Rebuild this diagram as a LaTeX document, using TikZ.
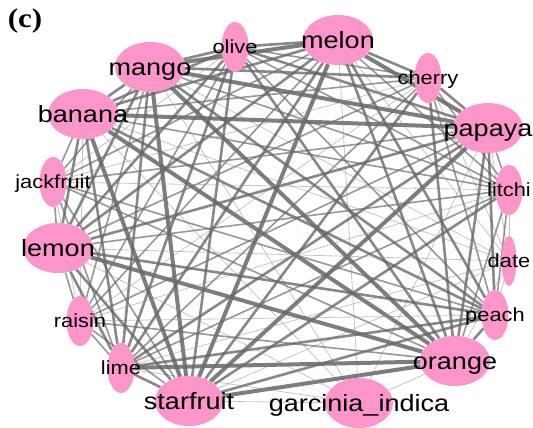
\documentclass[tikz,border=0pt]{standalone}
\usepackage{fontspec}
\usetikzlibrary{shapes.geometric}
\newfontfamily\labfont[FakeStretch=1.15]{Liberation Sans}
\newfontfamily\tagfont[FakeStretch=1.15]{Liberation Serif}
\definecolor{fruitpink}{RGB}{252,150,202}
\pgfdeclarelayer{background}
\pgfsetlayers{background,main}
% label whose height is the cap height, so the ellipse centre sits mid-caps
\newcommand\fruitlbl[1]{\makebox[0pt]{\raisebox{0pt}[0.72em][0pt]{#1}}}

\begin{document}
\begin{tikzpicture}[x=1pt,y=-1pt,
  fruit/.style={ellipse, fill=fruitpink, draw=none, inner sep=0pt},
  big/.style={fruit, minimum width=70pt, minimum height=50pt,
    font=\labfont\fontsize{23.5}{26}\selectfont},
  small/.style={fruit, minimum width=27pt, minimum height=50pt,
    font=\labfont\fontsize{19}{22}\selectfont},
  edgeA/.style={line width=4pt, draw=black!58, draw opacity=.88},
  edgeB/.style={line width=2.6pt, draw=black!60, draw opacity=.78},
  edgeC/.style={line width=1.6pt, draw=black!58, draw opacity=.7},
  edgeD/.style={line width=0.8pt, draw=black!45, draw opacity=.5},
  edgeE/.style={line width=0.5pt, draw=black!35, draw opacity=.5, dotted},
]
\useasboundingbox (0,0) rectangle (533,428);

\node[font=\tagfont\bfseries\fontsize{27}{30}\selectfont] (tag) at (25,21) {(c)};

% fruits, clockwise from the upper left
\node[big]   (ban) at (83,114)  {\fruitlbl{banana}};
\node[big]   (man) at (150,67)  {\fruitlbl{mango}};
\node[small] (oli) at (235,47)  {\fruitlbl{olive}};
\node[big]   (mel) at (338,40)  {\fruitlbl{melon}};
\node[small] (che) at (428,78)  {\fruitlbl{cherry}};
\node[big]   (pap) at (488,128) {\fruitlbl{papaya}};
\node[small] (lit) at (509,190) {\fruitlbl{litchi}};
\node[small, minimum width=15pt] (dat) at (509,261) {\fruitlbl{date}};
\node[small] (pea) at (495,315) {\fruitlbl{peach}};
\node[big]   (ora) at (455,361) {\fruitlbl{orange}};
\node[big, minimum width=68pt] (gar) at (359,403) {\fruitlbl{garcinia\_indica}};
\node[big, minimum width=68pt] (sta) at (189,401) {\fruitlbl{starfruit}};
\node[small] (lim) at (121,368) {\fruitlbl{lime}};
\node[small] (rai) at (80,321)  {\fruitlbl{raisin}};
\node[big]   (lem) at (58,248)  {\fruitlbl{lemon}};
\node[small] (jac) at (53,182)  {\fruitlbl{jackfruit}};

\begin{pgfonlayer}{background}
\foreach \a/\b/\w in {
  ban/man/B, ban/oli/B, ban/mel/B, ban/che/C, ban/pap/A, ban/lit/C,
  ban/dat/D, ban/pea/B, ban/ora/A, ban/gar/D, ban/sta/A, ban/lim/B,
  ban/rai/D, ban/lem/B, ban/jac/C,
  man/oli/B, man/mel/A, man/che/B, man/pap/A, man/lit/C, man/dat/D,
  man/pea/B, man/ora/A, man/gar/D, man/sta/A, man/lim/B, man/rai/C,
  man/lem/B, man/jac/C,
  oli/mel/B, oli/che/C, oli/pap/B, oli/lit/C, oli/dat/E, oli/pea/C,
  oli/ora/B, oli/gar/E, oli/sta/B, oli/lim/B, oli/rai/C, oli/lem/B,
  oli/jac/D,
  mel/che/B, mel/pap/A, mel/lit/C, mel/dat/D, mel/pea/B, mel/ora/B,
  mel/gar/D, mel/sta/A, mel/lim/B, mel/rai/C, mel/lem/B, mel/jac/C,
  che/pap/B, che/lit/C, che/dat/D, che/pea/C, che/ora/B, che/gar/E,
  che/sta/B, che/lim/C, che/rai/D, che/lem/C, che/jac/D,
  pap/lit/C, pap/dat/D, pap/pea/B, pap/ora/B, pap/gar/D, pap/sta/A,
  pap/lim/B, pap/rai/C, pap/lem/B, pap/jac/C,
  lit/dat/D, lit/pea/C, lit/ora/C, lit/gar/E, lit/sta/B, lit/lim/C,
  lit/rai/D, lit/lem/C, lit/jac/D,
  dat/pea/D, dat/ora/D, dat/gar/E, dat/sta/D, dat/lim/D, dat/rai/E,
  dat/lem/D, dat/jac/E,
  pea/ora/B, pea/gar/E, pea/sta/B, pea/lim/B, pea/rai/D, pea/lem/B,
  pea/jac/C,
  ora/gar/D, ora/sta/A, ora/lim/A, ora/rai/C, ora/lem/A, ora/jac/C,
  gar/sta/D, gar/lim/D, gar/rai/E, gar/lem/D, gar/jac/E,
  sta/lim/B, sta/rai/C, sta/lem/B, sta/jac/C,
  lim/rai/C, lim/lem/B, lim/jac/C,
  rai/lem/C, rai/jac/D,
  lem/jac/C}
  \draw[edge\w] (\a) -- (\b);
\end{pgfonlayer}
\end{tikzpicture}
\end{document}
